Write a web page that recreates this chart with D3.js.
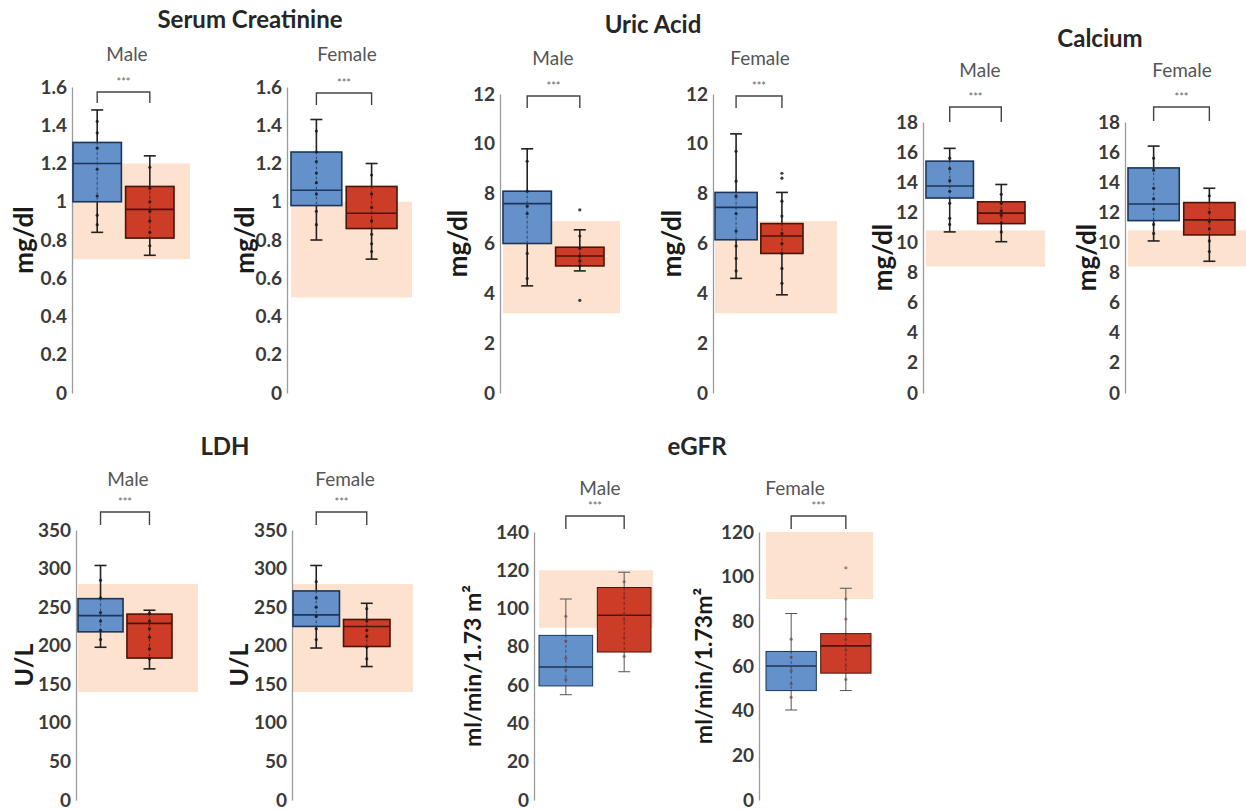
<!DOCTYPE html>
<html>
<head>
<meta charset="utf-8">
<script src="https://cdn.jsdelivr.net/npm/d3@7"></script>
<style>
  body { margin: 0; background: #fff; }
  svg { display: block; font-family: Lato, "Open Sans", sans-serif; }
</style>
</head>
<body>
<div class="chart"></div>
<script>
const svgWidth = 1246
const svgHeight = 811

// analytes and panels (two panels per analyte: Male, Female)
const analytes = ["Serum Creatinine", "Uric Acid", "Calcium", "LDH", "eGFR"]
const sexes = ["Male", "Female"]
const groups = ["Group A", "Group B"]

const panelYMax = [1.6, 1.6, 12, 12, 18, 18, 350, 350, 140, 120]
const panelTickStep = [0.2, 0.2, 2, 2, 2, 2, 50, 50, 20, 20]
const panelUnits = ["mg/dl", "mg/dl", "mg/dl", "mg/dl", "mg/dl", "mg/dl", "U/L", "U/L", "ml/min/1.73 m²", "ml/min/1.73m²"]

// reference (normal) ranges, shaded
const refRanges = [[0.7, 1.2], [0.5, 1.0], [3.2, 6.9], [3.2, 6.9], [8.4, 10.8], [8.4, 10.8], [140, 280], [140, 280], [90, 120], [90, 120]]

// box stats: [min, q1, median, q3, max]
const blueStats = [
  [0.84, 1.0, 1.2, 1.31, 1.48],
  [0.8, 0.98, 1.06, 1.26, 1.43],
  [4.3, 6.0, 7.6, 8.1, 9.8],
  [4.6, 6.15, 7.45, 8.05, 10.4],
  [10.7, 12.95, 13.75, 15.4, 16.25],
  [10.1, 11.45, 12.55, 14.95, 16.4],
  [198, 218, 239, 261, 304],
  [197, 225, 240, 271, 304],
  [55, 59.6, 69.5, 86, 105],
  [40.3, 49, 60, 66.5, 83.5]
]
const redStats = [
  [0.72, 0.81, 0.96, 1.08, 1.24],
  [0.7, 0.86, 0.94, 1.08, 1.2],
  [4.9, 5.1, 5.5, 5.85, 6.55],
  [3.94, 5.6, 6.3, 6.8, 8.05],
  [10.05, 11.25, 11.95, 12.7, 13.85],
  [8.75, 10.5, 11.5, 12.65, 13.6],
  [170, 184, 229, 241, 246],
  [173, 199, 225, 234, 255],
  [67, 77.3, 96.5, 111, 119],
  [49, 56.8, 69, 74.5, 94.8]
]
const redOutliers = [[], [], [7.35, 3.72], [8.62, 8.82], [], [], [], [], [], [104]]

const blueDots = [
  [1.42, 1.36, 1.28, 1.17, 1.03, 0.93, 0.88],
  [1.37, 1.26, 1.21, 1.15, 1.1, 1.04, 0.95, 0.88],
  [9.3, 8.1, 7.5, 7.2, 5.6, 4.6],
  [9.7, 8.5, 7.9, 7.2, 6.5, 5.9, 5.4, 4.9],
  [15.6, 14.9, 14.1, 13.4, 12.6, 11.6, 11.2],
  [15.6, 14.8, 13.6, 12.9, 12.2, 11.2, 10.6],
  [285, 262, 243, 232, 220, 208],
  [283, 262, 250, 238, 222, 208],
  [96, 83, 74, 68, 63],
  [72, 64, 58, 52, 46]
]
const redDots = [
  [1.18, 1.07, 1.0, 0.95, 0.9, 0.84, 0.77],
  [1.14, 1.04, 0.97, 0.9, 0.83, 0.78, 0.74],
  [6.3, 5.8, 5.5, 5.3, 5.1],
  [7.7, 7.1, 6.4, 6.0, 5.6, 5.0, 4.4],
  [13.2, 12.6, 12.1, 11.8, 11.3, 10.7],
  [13.1, 12.0, 11.4, 10.9, 10.1, 9.4],
  [242, 232, 222, 211, 196, 183],
  [248, 232, 220, 212, 198, 183],
  [114, 106, 97, 94, 85, 75],
  [90, 81, 72, 67, 60, 54]
]

// layout per panel
const layout = [
  { ax: 72, top: 87, bot: 393, bx: [73, 174], shadeR: 190, brY: 92, brBot: 103, subX: 127, subY: 53, lblX: 23, lblSize: 26 },
  { ax: 287, top: 87, bot: 393, bx: [291, 397], shadeR: 412, brY: 93, brBot: 105, subX: 347, subY: 53, lblX: 244, lblSize: 26 },
  { ax: 500, top: 94, bot: 393, bx: [503, 604], shadeR: 620, brY: 96, brBot: 108, subX: 553, subY: 57, lblX: 457, lblSize: 26 },
  { ax: 713, top: 94, bot: 393, bx: [715, 803], shadeR: 837, brY: 96, brBot: 108, subX: 760, subY: 57, lblX: 671, lblSize: 26 },
  { ax: 923, top: 122, bot: 393, bx: [926, 1025], shadeR: 1045, brY: 107, brBot: 122, subX: 980, subY: 69, lblX: 882, lblSize: 26 },
  { ax: 1125, top: 122, bot: 393, bx: [1128, 1235], shadeR: 1246, brY: 107, brBot: 121, subX: 1182, subY: 69, lblX: 1086, lblSize: 26 },
  { ax: 76, top: 530, bot: 800, bx: [78, 172], shadeR: 198, brY: 512, brBot: 525, subX: 128, subY: 478, lblX: 23, lblSize: 25 },
  { ax: 292, top: 530, bot: 800, bx: [293, 390], shadeR: 413, brY: 512, brBot: 525, subX: 345, subY: 478, lblX: 238, lblSize: 25 },
  { ax: 534, top: 532, bot: 800, bx: [539, 651], shadeR: 653, brY: 516, brBot: 529, subX: 600, subY: 487, lblX: 472, lblSize: 23, thin: true },
  { ax: 759, top: 532, bot: 800, bx: [766, 871], shadeR: 873, brY: 516, brBot: 529, subX: 795, subY: 487, lblX: 703, lblSize: 23, thin: true }
]
const titlePos = [[250, 18], [653, 23], [1100, 37], [225, 445], [697, 445]]

const fills = ["#5d8bc8", "#c9331d"]
const strokes = ["#1b3658", "#4a1509"]

let svg = d3
  .select(".chart")
  .append("svg")
  .attr("width", svgWidth)
  .attr("height", svgHeight)

analytes.forEach((name, i) => {
  svg.append("text")
    .attr("x", titlePos[i][0])
    .attr("y", titlePos[i][1])
    .attr("text-anchor", "middle")
    .attr("dominant-baseline", "central")
    .attr("font-size", 24)
    .attr("font-weight", "bold")
    .attr("fill", "#262626")
    .text(name)
})

layout.forEach((L, p) => {
  let g = svg.append("g")

  let y = d3.scaleLinear().domain([0, panelYMax[p]]).range([L.bot, L.top])
  let x = d3.scaleBand().domain(groups).range(L.bx).paddingInner(0.08).paddingOuter(0)
  let bw = x.bandwidth()

  // reference range shading
  g.append("rect")
    .attr("x", L.bx[0])
    .attr("y", y(refRanges[p][1]))
    .attr("width", L.shadeR - L.bx[0])
    .attr("height", y(refRanges[p][0]) - y(refRanges[p][1]))
    .attr("fill", "#fde2cf")

  // axis
  let ticks = d3.range(0, panelYMax[p] + panelTickStep[p] / 2, panelTickStep[p]).map(v => +v.toFixed(2))
  let leftAxis = d3.axisLeft(y)
    .tickValues(ticks)
    .tickFormat(d => String(d))
    .tickSizeInner(0)
    .tickSizeOuter(0)
    .tickPadding(5)

  let axisG = g.append("g")
    .attr("transform", `translate(${L.ax}, 0)`)
    .call(leftAxis)
  axisG.select(".domain").attr("stroke", "#9a9a9a").attr("stroke-width", 1.3)
  axisG.selectAll("text")
    .attr("font-family", "Lato, sans-serif")
    .attr("font-size", 19)
    .attr("font-weight", "bold")
    .attr("fill", "#3a3a3a")

  // y label
  g.append("text")
    .attr("transform", `translate(${L.lblX}, ${(L.top + L.bot) / 2}) rotate(-90)`)
    .attr("text-anchor", "middle")
    .attr("dominant-baseline", "central")
    .attr("font-size", L.lblSize)
    .attr("font-weight", "bold")
    .attr("fill", "#1a1a1a")
    .text(panelUnits[p])

  // subtitle
  g.append("text")
    .attr("x", L.subX)
    .attr("y", L.subY)
    .attr("text-anchor", "middle")
    .attr("dominant-baseline", "central")
    .attr("font-size", 19)
    .attr("fill", "#555")
    .text(sexes[p % 2])

  let stats = [blueStats[p], redStats[p]]
  let dots = [blueDots[p], redDots[p]]
  let outl = [[], redOutliers[p]]
  let whiskCol = L.thin ? "#555" : "#222"
  let whiskW = L.thin ? 1 : 1.6

  groups.forEach((grp, k) => {
    let s = stats[k]
    let cx = x(grp) + bw / 2
    // whisker
    g.append("line")
      .attr("x1", cx).attr("x2", cx)
      .attr("y1", y(s[0])).attr("y2", y(s[4]))
      .attr("stroke", whiskCol).attr("stroke-width", whiskW)
    ;[s[0], s[4]].forEach(v => {
      g.append("line")
        .attr("x1", cx - 6).attr("x2", cx + 6)
        .attr("y1", y(v)).attr("y2", y(v))
        .attr("stroke", whiskCol).attr("stroke-width", whiskW)
    })
    // box
    g.append("rect")
      .attr("x", x(grp))
      .attr("y", y(s[3]))
      .attr("width", bw)
      .attr("height", y(s[1]) - y(s[3]))
      .attr("fill", fills[k])
      .attr("fill-opacity", 0.95)
      .attr("stroke", strokes[k])
      .attr("stroke-width", L.thin ? 1 : 1.6)
    // median
    g.append("line")
      .attr("x1", x(grp)).attr("x2", x(grp) + bw)
      .attr("y1", y(s[2])).attr("y2", y(s[2]))
      .attr("stroke", strokes[k]).attr("stroke-width", 1.6)
    // inner whisker on box
    g.append("line")
      .attr("x1", cx).attr("x2", cx)
      .attr("y1", y(s[3])).attr("y2", y(s[1]))
      .attr("stroke", strokes[k]).attr("stroke-width", 0.8).attr("stroke-dasharray", "2,3")
    // observations
    g.selectAll(null)
      .data(dots[k].concat(outl[k]))
      .enter()
      .append("circle")
      .attr("cx", cx)
      .attr("cy", d => y(d))
      .attr("r", 1.6)
      .attr("fill", L.thin ? "#6a3a3a" : "#1a1a1a")
      .attr("opacity", L.thin ? 0.6 : 0.85)
  })

  // significance bracket
  let c0 = x(groups[0]) + bw / 2
  let c1 = x(groups[1]) + bw / 2
  g.append("path")
    .attr("d", `M${c0},${L.brBot} V${L.brY} H${c1} V${L.brBot}`)
    .attr("fill", "none")
    .attr("stroke", "#444")
    .attr("stroke-width", 1.4)
  g.append("text")
    .attr("x", (c0 + c1) / 2)
    .attr("y", L.brY - 6)
    .attr("text-anchor", "middle")
    .attr("font-size", 11)
    .attr("fill", "#666")
    .text("***")
})
</script>
</body>
</html>
